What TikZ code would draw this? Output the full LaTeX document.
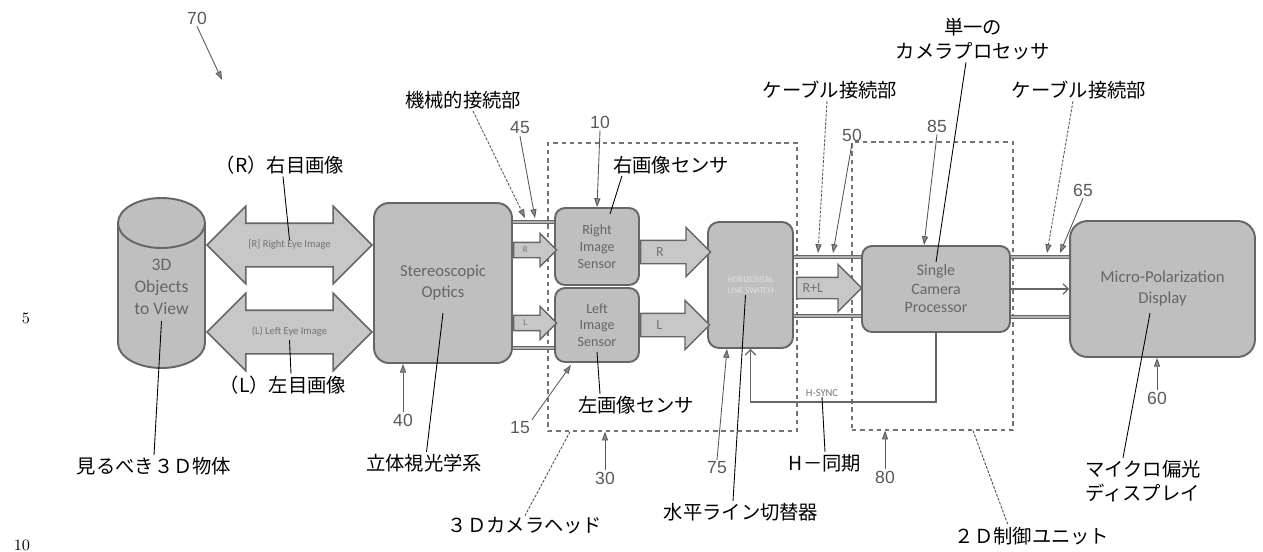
\documentclass[tikz,border=0pt]{standalone}
\usepackage{fontspec}
\newfontfamily\jp{Noto Sans CJK JP}
\newfontfamily\carlito{Carlito}
\newfontfamily\numfont{Liberation Sans}
\usetikzlibrary{arrows.meta,positioning,shapes.arrows}

\begin{document}
\begin{tikzpicture}[x=0.02cm, y=-0.02cm,
    box/.style={draw=black!60, line width=1.1pt, fill=black!25, rounded corners=0.22cm, align=center, text=black!60, font=\carlito\fontsize{9}{10.5}\selectfont},
    dbox/.style={draw=black!55, line width=0.8pt, dash pattern=on 2.5pt off 2.2pt},
    blockarrow/.style={single arrow, draw=black!60, line width=0.8pt, fill=black!22, single arrow head indent=0pt, inner xsep=0pt, text height=0pt, text depth=0pt, anchor=tail},
    eyearrow/.style={double arrow, draw=black!60, line width=0.9pt, fill=black!22, double arrow head indent=0pt, inner xsep=0pt, inner ysep=0.42cm, text height=0pt, text depth=0pt, double arrow head extend=0.34cm, minimum height=3.3cm},
    bar/.style={draw=black!60, line width=0.5pt, double=black!30, double distance=1.6pt},
    arrtxt/.style={text=black!55, font=\carlito\fontsize{6}{7}\selectfont, inner sep=0pt},
    jlabel/.style={font=\jp\fontsize{11}{14}\selectfont, align=center, inner sep=1pt},
    num/.style={text=black!65, font=\numfont\fontsize{10}{12}\selectfont, inner sep=1pt},
    leader/.style={black, line width=0.5pt},
    dleader/.style={black!70, line width=0.5pt, dash pattern=on 1.6pt off 0.8pt},
    numarrow/.style={black!65, line width=0.5pt, -{Triangle[length=5pt,width=3.5pt,fill=black!45]}},
    dnumarrow/.style={numarrow, dash pattern=on 1.6pt off 0.8pt}
  ]
    \useasboundingbox (0,0) rectangle (1263,551);

    % margin numbers
    \node (m5) at (26,318) {\fontsize{9}{11}\selectfont 5};
    \node[inner sep=0pt] (m10) at (22,545) {\fontsize{9}{11}\selectfont 10};

    % dashed units
    \node[dbox, minimum width=4.98cm, minimum height=5.76cm] (head) at (672.5,287) {};
    \node[dbox, minimum width=3.22cm, minimum height=5.76cm] (ctrl) at (932.5,286) {};

    % objects to view
    \draw[draw=black!60, line width=1.1pt, fill=black!25] (118,223) -- (118,343) arc[start angle=180, end angle=0, x radius=43.5, y radius=25] -- (205,223);
    \draw[draw=black!60, line width=1.1pt, fill=black!25] (161.5,223) ellipse[x radius=43.5, y radius=25];
    \node[align=center, text=black!60, font=\carlito\fontsize{10}{12.5}\selectfont] (obj) at (161.5,287) {3D\\Objects\\to View};

    % eye images
    \node[eyearrow] (reye) at (289.5,245) {};
    \node[arrtxt] (reyetxt) at (reye.center) {[R] Right Eye Image};
    \node[eyearrow] (leye) at (289.5,332) {};
    \node[arrtxt] (leyetxt) at (leye.center) {(L) Left Eye Image};

    % blocks
    \node[box, rounded corners=0.3cm, minimum width=2.76cm, minimum height=3.2cm, font=\carlito\fontsize{9.5}{12}\selectfont] (optics) at (443,283) {Stereoscopic\\Optics};
    \node[box, rounded corners=0.2cm, minimum width=1.68cm, minimum height=1.54cm, font=\carlito\fontsize{8}{9.5}\selectfont] (rsens) at (597,246.5) {Right\\Image\\Sensor};
    \node[box, rounded corners=0.2cm, minimum width=1.68cm, minimum height=1.48cm, font=\carlito\fontsize{8}{9.5}\selectfont] (lsens) at (597,325) {Left\\Image\\Sensor};
    \node[box, minimum width=1.7cm, minimum height=2.52cm, text=black!12, font=\carlito\fontsize{5}{6}\selectfont] (sw) at (750.5,285) {HORIZONTAL\\LINE SWITCH};
    \node[box, rounded corners=0.2cm, minimum width=2.96cm, minimum height=1.72cm] (proc) at (936,289) {Single\\Camera\\Processor};
    \node[box, rounded corners=0.35cm, minimum width=3.7cm, minimum height=2.72cm, font=\carlito\fontsize{9.5}{12}\selectfont] (disp) at (1162.5,289) {Micro-Polarization\\Display};

    % optics to sensors
    \draw[bar] ([yshift=1.22cm]optics.east) -- ([yshift=1.22cm]optics.east -| rsens.west);
    \draw[bar] ([yshift=-1.3cm]optics.east) -- ([yshift=-1.3cm]optics.east -| lsens.west);
    \node[blockarrow, inner ysep=0.14cm, single arrow head extend=0.18cm, minimum height=0.86cm] (rin) at ([yshift=0.66cm]optics.east) {};
    \node[arrtxt, font=\carlito\fontsize{5}{6}\selectfont] (rintxt) at ([xshift=-0.12cm]rin.center) {R};
    \node[blockarrow, inner ysep=0.14cm, single arrow head extend=0.18cm, minimum height=0.86cm] (lin) at ([yshift=-0.8cm]optics.east) {};
    \node[arrtxt, font=\carlito\fontsize{5}{6}\selectfont] (lintxt) at ([xshift=-0.12cm]lin.center) {L};

    % sensors to switch
    \node[blockarrow, inner ysep=0.22cm, single arrow head extend=0.26cm, minimum height=1.4cm] (rout) at ([yshift=-0.11cm]rsens.east) {};
    \node[arrtxt, font=\carlito\fontsize{8}{9}\selectfont] (routtxt) at ([xshift=-0.2cm]rout.center) {R};
    \node[blockarrow, inner ysep=0.22cm, single arrow head extend=0.26cm, minimum height=1.38cm] (lout) at (lsens.east) {};
    \node[arrtxt, font=\carlito\fontsize{8}{9}\selectfont] (louttxt) at ([xshift=-0.2cm]lout.center) {L};

    % switch to processor
    \draw[bar] ([yshift=0.56cm]sw.east) -- ([yshift=0.56cm]sw.east -| proc.west);
    \draw[bar] ([yshift=-0.62cm]sw.east) -- ([yshift=-0.62cm]sw.east -| proc.west);
    \node[blockarrow, inner ysep=0.2cm, single arrow head extend=0.26cm, minimum height=1.3cm] (rl) at ([xshift=0.04cm, yshift=-0.06cm]sw.east) {};
    \node[arrtxt, font=\carlito\fontsize{8}{9}\selectfont] (rltxt) at ([xshift=-0.22cm]rl.center) {R+L};

    % processor to display
    \draw[bar] ([yshift=0.64cm]proc.east) -- ([yshift=0.64cm]proc.east -| disp.west);
    \draw[bar] ([yshift=-0.56cm]proc.east) -- ([yshift=-0.56cm]proc.east -| disp.west);
    \draw[black!60, line width=0.7pt, -{Straight Barb[length=3pt]}] (proc.east) -- (disp.west);

    % H-sync feedback
    \coordinate (hsc) at (843,402);
    \draw[black!60, line width=0.7pt, -{Straight Barb[length=3pt]}] (proc.south) |- (hsc) -| (sw.south);
    \node[arrtxt, font=\carlito\fontsize{6}{7}\selectfont] (hs) at (822,393) {H-SYNC};

    % labels at the top
    \node[num] (n70) at (197,18) {70};
    \coordinate (p70) at (222,80);
    \draw[numarrow] (n70.south) -- (p70);

    \node[jlabel] (mech) at (463,100) {機械的接続部};
    \coordinate (p45a) at (525,218);
    \draw[dnumarrow] ([xshift=0.2cm]mech.south) -- (p45a);
    \node[num] (n45) at (520,128) {45};
    \coordinate (p45b) at (535,218);
    \draw[numarrow] (n45.south) -- (p45b);

    \node[num] (n10) at (600,122) {10};
    \draw[numarrow] (n10.south) -- (rsens.north);
    \node[jlabel] (rsenslbl) at (671,165) {右画像センサ};
    \draw[leader] ([xshift=0.22cm]rsenslbl.south west) -- ([xshift=0.26cm, yshift=-0.14cm]rsens.north);

    \node[jlabel] (cab1) at (830,90) {ケーブル接続部};
    \coordinate (p50a) at (818,253);
    \draw[dnumarrow] ([xshift=-0.06cm]cab1.south) -- (p50a);
    \node[num] (n50) at (852,135) {50};
    \coordinate (p50b) at (833,253);
    \draw[numarrow] (n50.south) -- (p50b);

    \node[jlabel] (proclbl) at (973,39) {単一の\\カメラプロセッサ};
    \draw[leader] ([xshift=-0.14cm]proclbl.south) -- ([yshift=0.54cm]proc.center);
    \node[num] (n85) at (937,126) {85};
    \draw[numarrow] (n85.south) -- ([xshift=-0.24cm]proc.north);

    \node[jlabel] (cab2) at (1079,90) {ケーブル接続部};
    \coordinate (p65a) at (1047,253);
    \draw[dnumarrow] ([xshift=-0.12cm]cab2.south) -- (p65a);
    \node[num] (n65) at (1083,190) {65};
    \coordinate (p65b) at (1060,253);
    \draw[numarrow] (n65.south) -- (p65b);

    \node[jlabel] (rlbl) at (280,165) {（R）右目画像};
    \draw[leader] ([xshift=0.06cm]rlbl.south) -- ([yshift=0.1cm]reye.center);

    % labels at the bottom
    \node[jlabel] (llbl) at (283,385) {（L）左目画像};
    \draw[leader] ([yshift=-0.16cm]leye.center) -- ([xshift=0.16cm]llbl.north);

    \node[jlabel] (objlbl) at (154,466) {見るべき３Ｄ物体};
    \draw[leader] (obj.south) -- (objlbl.north);

    \node[num] (n40) at (403,420) {40};
    \draw[numarrow] (n40.north) -- (n40.north |- optics.south);
    \node[jlabel] (optlbl) at (424,463) {立体視光学系};
    \draw[leader] ([yshift=-0.6cm]optics.center) -- ([xshift=0.05cm]optlbl.north);

    \node[num] (n15) at (520,428) {15};
    \coordinate (p15) at (571,365);
    \draw[numarrow] (n15.north east) -- (p15);
    \node[jlabel] (lsenslbl) at (636,405) {左画像センサ};
    \draw[leader] ([yshift=-0.54cm]lsens.center) -- ([xshift=-0.72cm]lsenslbl.north);

    \node[num] (n30) at (605,478) {30};
    \draw[numarrow] (n30.north) -- (n30.north |- head.south);
    \node[jlabel] (camhead) at (525,526) {３Ｄカメラヘッド};
    \draw[dleader] ([xshift=-2.05cm]head.south) -- (camhead.north);

    \node[num] (n75) at (717,468) {75};
    \draw[numarrow] (n75.north) -- ([xshift=-0.47cm]sw.south);
    \node[jlabel] (swlbl) at (741,512) {水平ライン切替器};
    \draw[leader] ([xshift=-0.1cm, yshift=-0.2cm]sw.center) -- ([xshift=-0.16cm]swlbl.north);

    \node[jlabel] (hsynclbl) at (825,463) {H－同期};
    \draw[leader] (hs.south) -- (hsynclbl.north);

    \node[num] (n80) at (885,477) {80};
    \draw[numarrow] (n80.north) -- (n80.north |- ctrl.south);
    \node[jlabel] (ctrllbl) at (1032,536) {２Ｄ制御ユニット};
    \draw[dleader] ([xshift=0.81cm]ctrl.south) -- ([xshift=-0.48cm]ctrllbl.north);

    \node[num] (n60) at (1157,398) {60};
    \draw[numarrow] (n60.north) -- (n60.north |- disp.south);
    \node[jlabel, align=left] (displbl) at (1143,481) {マイクロ偏光\\ディスプレイ};
    \draw[leader] ([xshift=-0.25cm, yshift=-0.48cm]disp.center) -- ([xshift=-0.4cm]displbl.north);
\end{tikzpicture}
\end{document}
